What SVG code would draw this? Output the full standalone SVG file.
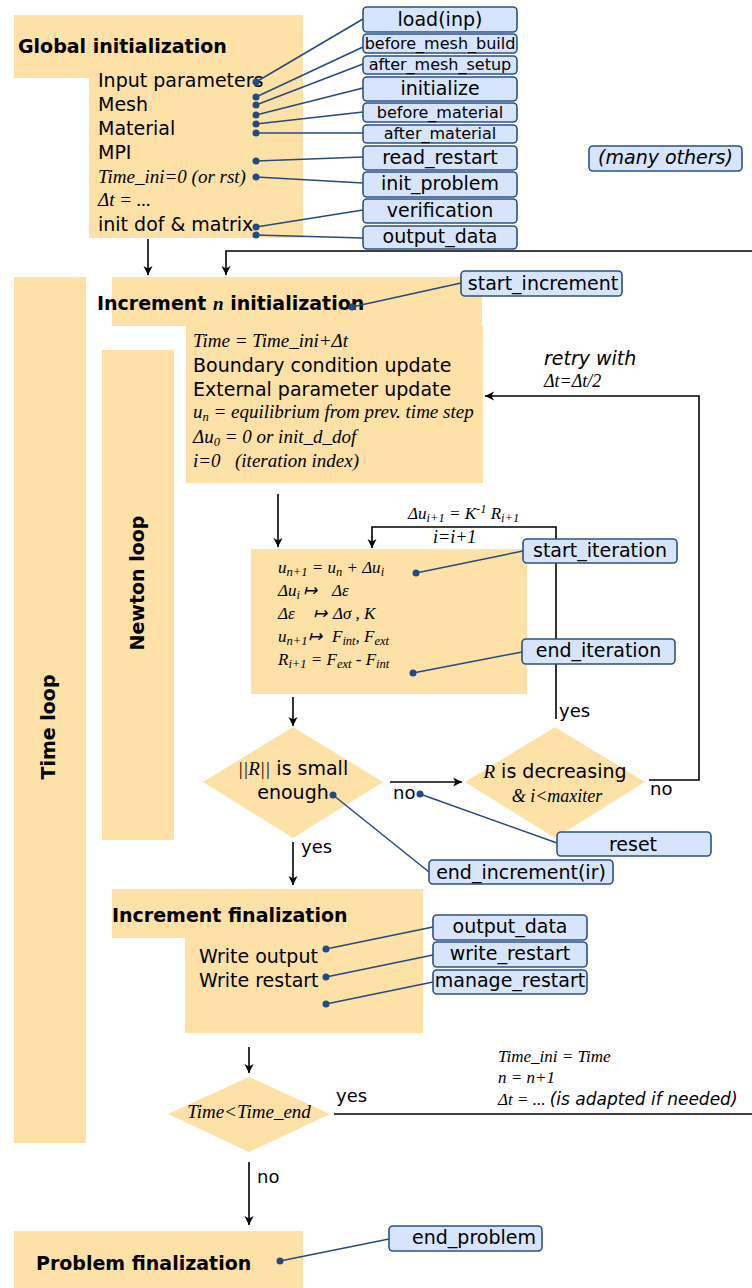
<svg xmlns="http://www.w3.org/2000/svg" width="752" height="1288" viewBox="0 0 752 1288">
<style>
.y{fill:#fee1a7;stroke:none}
.t{font-family:"DejaVu Sans",sans-serif;font-size:19px;fill:#000}
.b{font-family:"DejaVu Sans",sans-serif;font-size:19px;font-weight:bold;fill:#000}
.s{font-family:"Liberation Serif",serif;font-style:italic;font-size:19px;fill:#000}
.s17{font-size:17px}
.s18{font-size:18px}
.t18{font-size:18px}
.hook{fill:#d6e5fc;stroke:#2c5086;stroke-width:1.6}
.ht{font-family:"DejaVu Sans",sans-serif;font-size:19px;fill:#000;text-anchor:middle}
.ht.sm{font-size:16px}
.flow{fill:none;stroke:#000;stroke-width:1.6}
.link{fill:none;stroke:#244a80;stroke-width:1.5}
.dot{fill:#244a80}
.sub{font-size:12.5px}
.sf{font-family:"Liberation Serif",serif;font-style:italic}
.sans{font-family:"DejaVu Sans",sans-serif}
</style>
<defs>
<marker id="arr" viewBox="-10 -5 11 10" markerWidth="11" markerHeight="10" refX="0" refY="0" orient="auto" markerUnits="userSpaceOnUse">
<path d="M0,0 L-9,-4.5 L-6.5,0 L-9,4.5 Z" fill="#000"/>
</marker>
</defs>
<rect width="752" height="1288" fill="#fff"/>

<g id="time-loop">
<rect class="y" x="14" y="277" width="72" height="866"/>
<text class="b" transform="translate(55,727) rotate(-90)" text-anchor="middle">Time loop</text>
</g>
<g id="newton-loop">
<rect class="y" x="102" y="350" width="72" height="490"/>
<text class="b" transform="translate(144,583) rotate(-90)" text-anchor="middle">Newton loop</text>
</g>

<g id="global-init">
<path class="y" d="M14,15 H303 V238 H89 V78 H14 Z"/>
<text class="b" x="18" y="53">Global initialization</text>
<text class="t" x="98" y="87">Input parameters</text>
<text class="t" x="98" y="111">Mesh</text>
<text class="t" x="98" y="135">Material</text>
<text class="t" x="98" y="159">MPI</text>
<text class="s" x="98" y="183">Time_ini=0 (or rst)</text>
<text class="s" x="98" y="206">Δt = ...</text>
<text class="t" x="98" y="231">init dof &amp; matrix</text>
</g>

<g id="increment-init">
<path class="y" d="M112,277 H482 V326 H483 V483 H186 V326 H112 Z"/>
<text class="b" x="97" y="310">Increment <tspan class="sf">n</tspan> initialization</text>
<text class="s" x="193" y="347">Time = Time_ini+Δt</text>
<text class="t" x="193" y="372">Boundary condition update</text>
<text class="t" x="193" y="396">External parameter update</text>
<text class="s" x="193" y="418">u<tspan class="sub" baseline-shift="-3">n</tspan> = equilibrium from prev. time step</text>
<text class="s" x="193" y="443">Δu<tspan class="sub" baseline-shift="-3">0</tspan> = 0 or init_d_dof</text>
<text class="s" x="193" y="467">i=0<tspan x="235">(iteration index)</tspan></text>
</g>

<g id="newton-iteration">
<rect class="y" x="251" y="549" width="276" height="145"/>
<text class="s s17" x="278" y="573">u<tspan class="sub" baseline-shift="-3">n+1</tspan> = u<tspan class="sub" baseline-shift="-3">n</tspan> + Δu<tspan class="sub" baseline-shift="-3">i</tspan></text>
<text class="s s17" x="278" y="596">Δu<tspan class="sub" baseline-shift="-3">i</tspan><tspan x="303">↦</tspan><tspan x="332">Δε</tspan></text>
<text class="s s17" x="278" y="619">Δε<tspan x="313">↦</tspan><tspan x="333">Δσ , K</tspan></text>
<text class="s s17" x="278" y="642">u<tspan class="sub" baseline-shift="-3">n+1</tspan><tspan x="308">↦</tspan><tspan x="332">F</tspan><tspan class="sub" baseline-shift="-3">int</tspan>, F<tspan class="sub" baseline-shift="-3">ext</tspan></text>
<text class="s s17" x="278" y="665">R<tspan class="sub" baseline-shift="-3">i+1</tspan> = F<tspan class="sub" baseline-shift="-3">ext</tspan> - F<tspan class="sub" baseline-shift="-3">int</tspan></text>
</g>

<g id="residual-check">
<path class="y" d="M203,782 L293,727 L383,782 L293,838 Z"/>
<text class="t" x="293" y="775" text-anchor="middle"><tspan class="sf">||R||</tspan> is small</text>
<text class="t" x="293" y="799" text-anchor="middle">enough</text>
</g>

<g id="decreasing-check">
<path class="y" d="M465,782 L555,727 L645,782 L555,838 Z"/>
<text class="t" x="555" y="778" text-anchor="middle"><tspan class="sf">R</tspan> is decreasing</text>
<text class="s s18" x="557" y="802" text-anchor="middle">&amp; i&lt;maxiter</text>
</g>

<g id="increment-final">
<path class="y" d="M112,889 H423 V1033 H185 V938 H112 Z"/>
<text class="b" x="112" y="922">Increment finalization</text>
<text class="t" x="199" y="963">Write output</text>
<text class="t" x="199" y="987">Write restart</text>
</g>

<g id="time-check">
<path class="y" d="M168,1114 L249,1077 L330,1114 L249,1152 Z"/>
<text class="s" x="249" y="1118" text-anchor="middle">Time&lt;Time_end</text>
</g>

<g id="problem-final">
<rect class="y" x="14" y="1231" width="289" height="57"/>
<text class="b" x="36" y="1270">Problem finalization</text>
</g>

<g id="connectors">
<line class="flow" x1="148" y1="239" x2="148" y2="275" marker-end="url(#arr)"/>
<path class="flow" d="M334,1114 H760 V251 H226 V275" marker-end="url(#arr)"/>
<line class="flow" x1="278" y1="494" x2="278" y2="547" marker-end="url(#arr)"/>
<path class="flow" d="M556,719 V527 H372 V548" marker-end="url(#arr)"/>
<line class="flow" x1="293" y1="697" x2="293" y2="726" marker-end="url(#arr)"/>
<line class="flow" x1="390" y1="782" x2="462" y2="782" marker-end="url(#arr)"/>
<path class="flow" d="M649,780 H699 V396 H485" marker-end="url(#arr)"/>
<line class="flow" x1="293" y1="842" x2="293" y2="885" marker-end="url(#arr)"/>
<line class="flow" x1="249" y1="1047" x2="249" y2="1073" marker-end="url(#arr)"/>
<line class="flow" x1="249" y1="1162" x2="249" y2="1225" marker-end="url(#arr)"/>

<text class="s s17" x="408" y="519">Δu<tspan class="sub" baseline-shift="-2.5">i+1</tspan> = K<tspan class="sub" baseline-shift="6">-1</tspan> R<tspan class="sub" baseline-shift="-2.5">i+1</tspan></text>
<text class="s s18" x="433" y="543">i=i+1</text>
<text class="t" x="544" y="365" font-style="italic">retry with</text>
<text class="s s18" x="544" y="387">Δt=Δt/2</text>
<text class="t t18" x="393" y="799">no</text>
<text class="t t18" x="650" y="795">no</text>
<text class="t t18" x="559" y="717">yes</text>
<text class="t t18" x="301" y="853">yes</text>
<text class="t t18" x="336" y="1102">yes</text>
<text class="t t18" x="257" y="1183">no</text>
<text class="s s17" x="498" y="1062">Time_ini = Time</text>
<text class="s s17" x="498" y="1083">n = n+1</text>
<text class="s s17" x="498" y="1105">Δt = ... <tspan class="sans">(is adapted if needed)</tspan></text>

<g id="hook-links">
<line class="link" x1="256" y1="82" x2="363" y2="19"/>
<line class="link" x1="256" y1="97" x2="363" y2="47"/>
<line class="link" x1="256" y1="105" x2="363" y2="64"/>
<line class="link" x1="256" y1="115" x2="363" y2="88"/>
<line class="link" x1="256" y1="124" x2="363" y2="112"/>
<line class="link" x1="256" y1="133" x2="363" y2="133"/>
<line class="link" x1="256" y1="161" x2="363" y2="157"/>
<line class="link" x1="256" y1="177" x2="363" y2="183"/>
<line class="link" x1="256" y1="227" x2="363" y2="210"/>
<line class="link" x1="256" y1="235" x2="363" y2="238"/>
<line class="link" x1="352" y1="307" x2="461" y2="283"/>
<line class="link" x1="416" y1="573" x2="523" y2="551"/>
<line class="link" x1="413" y1="673" x2="522" y2="652"/>
<line class="link" x1="333" y1="795" x2="429" y2="872"/>
<line class="link" x1="420" y1="794" x2="557" y2="843"/>
<line class="link" x1="326" y1="949" x2="433" y2="927"/>
<line class="link" x1="326" y1="977" x2="433" y2="955"/>
<line class="link" x1="326" y1="1004" x2="433" y2="982"/>
<line class="link" x1="280" y1="1261" x2="389" y2="1239"/>
<g class="dot">
<circle cx="256" cy="82" r="3.5"/><circle cx="256" cy="97" r="3.5"/><circle cx="256" cy="105" r="3.5"/>
<circle cx="256" cy="115" r="3.5"/><circle cx="256" cy="124" r="3.5"/><circle cx="256" cy="133" r="3.5"/>
<circle cx="256" cy="161" r="3.5"/><circle cx="256" cy="177" r="3.5"/><circle cx="256" cy="227" r="3.5"/>
<circle cx="256" cy="235" r="3.5"/><circle cx="352" cy="307" r="3.5"/><circle cx="416" cy="573" r="3.5"/>
<circle cx="413" cy="673" r="3.5"/><circle cx="333" cy="795" r="3.5"/><circle cx="420" cy="794" r="3.5"/>
<circle cx="326" cy="949" r="3.5"/><circle cx="326" cy="977" r="3.5"/><circle cx="326" cy="1004" r="3.5"/>
<circle cx="280" cy="1261" r="3.5"/>
</g>
</g>
</g>

<g id="hook-load"><rect class="hook" x="363" y="7" width="154" height="25" rx="4"/><text class="ht" x="440" y="26">load(inp)</text></g>
<g id="hook-before-mesh-build"><rect class="hook" x="363" y="34" width="154" height="19" rx="4"/><text class="ht sm" x="440" y="49">before_mesh_build</text></g>
<g id="hook-after-mesh-setup"><rect class="hook" x="363" y="56" width="154" height="18" rx="4"/><text class="ht sm" x="440" y="70">after_mesh_setup</text></g>
<g id="hook-initialize"><rect class="hook" x="363" y="77" width="154" height="24" rx="4"/><text class="ht" x="440" y="95">initialize</text></g>
<g id="hook-before-material"><rect class="hook" x="363" y="103" width="154" height="19" rx="4"/><text class="ht sm" x="440" y="118">before_material</text></g>
<g id="hook-after-material"><rect class="hook" x="363" y="125" width="154" height="18" rx="4"/><text class="ht sm" x="440" y="139">after_material</text></g>
<g id="hook-read-restart"><rect class="hook" x="363" y="146" width="154" height="24" rx="4"/><text class="ht" x="440" y="164">read_restart</text></g>
<g id="hook-init-problem"><rect class="hook" x="363" y="172" width="154" height="25" rx="4"/><text class="ht" x="440" y="190">init_problem</text></g>
<g id="hook-verification"><rect class="hook" x="363" y="199" width="154" height="24" rx="4"/><text class="ht" x="440" y="217">verification</text></g>
<g id="hook-output-data-1"><rect class="hook" x="363" y="226" width="154" height="23" rx="4"/><text class="ht" x="440" y="243">output_data</text></g>
<g id="hook-many-others"><rect class="hook" x="589" y="146" width="153" height="25" rx="4"/><text class="ht" x="665.5" y="164" font-style="italic">(many others)</text></g>
<g id="hook-start-increment"><rect class="hook" x="461" y="271" width="161" height="25" rx="4"/><text class="ht" x="543" y="290">start_increment</text></g>
<g id="hook-start-iteration"><rect class="hook" x="523" y="539" width="154" height="24" rx="4"/><text class="ht" x="600" y="557">start_iteration</text></g>
<g id="hook-end-iteration"><rect class="hook" x="522" y="639" width="153" height="25" rx="4"/><text class="ht" x="598.5" y="657">end_iteration</text></g>
<g id="hook-reset"><rect class="hook" x="557" y="832" width="154" height="24" rx="4"/><text class="ht" x="633" y="851">reset</text></g>
<g id="hook-end-increment"><rect class="hook" x="429" y="860" width="184" height="24" rx="4"/><text class="ht" x="521" y="879">end_increment(ir)</text></g>
<g id="hook-output-data-2"><rect class="hook" x="433" y="915" width="154" height="25" rx="4"/><text class="ht" x="510" y="933">output_data</text></g>
<g id="hook-write-restart"><rect class="hook" x="433" y="942" width="154" height="25" rx="4"/><text class="ht" x="510" y="960">write_restart</text></g>
<g id="hook-manage-restart"><rect class="hook" x="433" y="970" width="154" height="24" rx="4"/><text class="ht" x="510" y="987">manage_restart</text></g>
<g id="hook-end-problem"><rect class="hook" x="389" y="1226" width="153" height="25" rx="4"/><text class="ht" x="536" y="1244" style="text-anchor:end">end_problem</text></g>
</svg>
